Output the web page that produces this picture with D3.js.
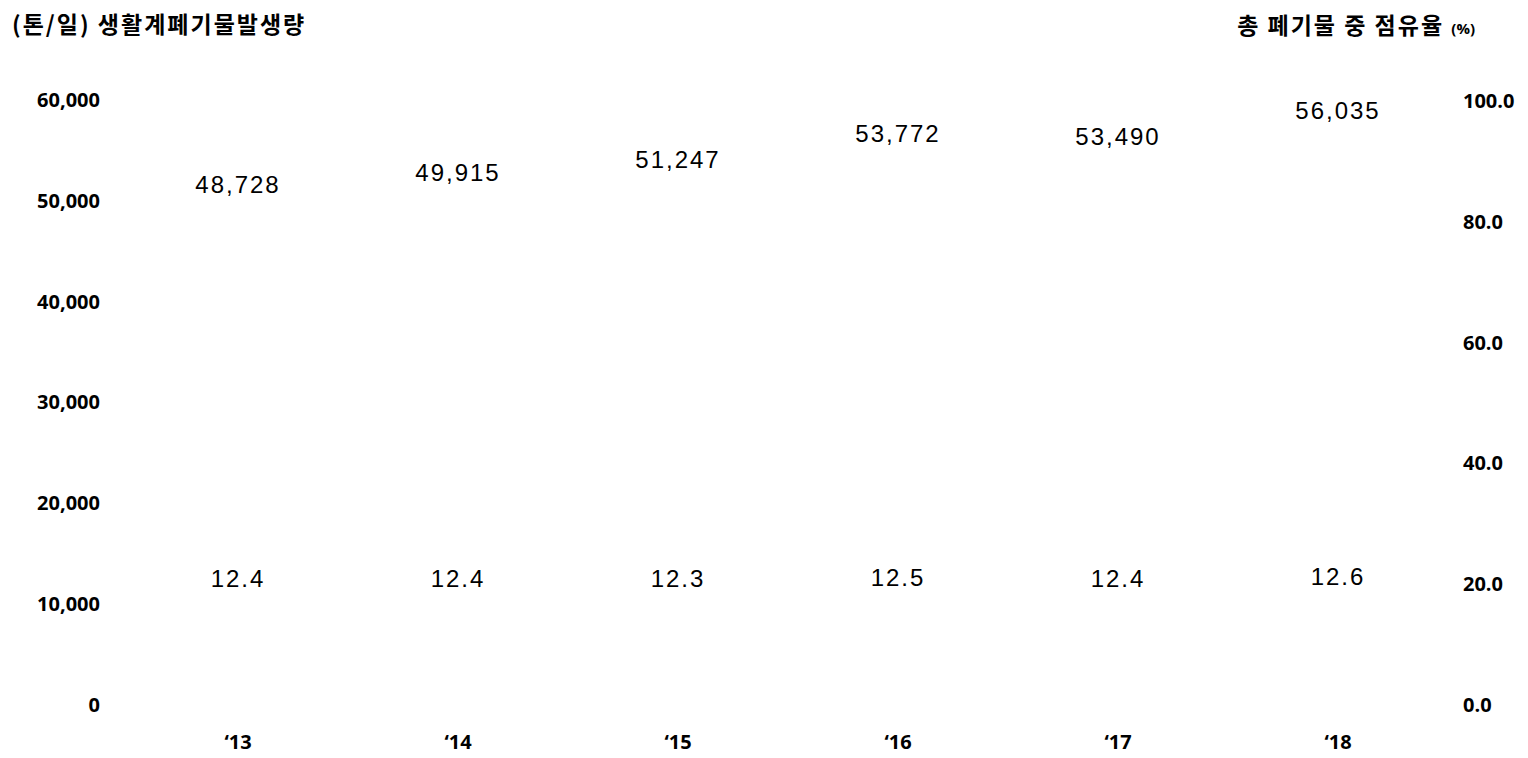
<!DOCTYPE html>
<html>
<head>
<meta charset="utf-8">
<script src="https://cdn.jsdelivr.net/npm/d3@7"></script>
<style>
  body { margin: 0; background: #fff; }
  .tick text { font-family: "Open Sans", "Noto Sans CJK KR", sans-serif; font-weight: 700; font-size: 20px; fill: #000; }
  .valueText { font-family: "Liberation Sans", Arial, sans-serif; font-size: 24px; letter-spacing: 2px; fill: #000; }
  .titleText { font-family: "Noto Sans CJK KR", sans-serif; font-weight: 700; font-size: 23px; letter-spacing: 2px; fill: #000; }
</style>
</head>
<body>
<div id="chart"></div>
<script>
// Data
var years = ["\u201813", "\u201814", "\u201815", "\u201816", "\u201817", "\u201818"];
var generation = [48728, 49915, 51247, 53772, 53490, 56035];   // 톤/일
var share = [12.4, 12.4, 12.3, 12.5, 12.4, 12.6];               // %
var leftTicks = [0, 10000, 20000, 30000, 40000, 50000, 60000];
var rightTicks = [0, 20, 40, 60, 80, 100];

var svgWidth = 1528;
var svgHeight = 758;

var svg = d3.select("#chart")
    .append("svg")
    .attr("width", svgWidth)
    .attr("height", svgHeight);

// plot area
var plotLeft = 128, plotRight = 1448, plotTop = 100, plotBottom = 705;

var xScale = d3.scaleBand()
    .domain(years)
    .range([plotLeft, plotRight])
    .paddingInner(0.3)
    .paddingOuter(0.15);

var yLeft = d3.scaleLinear()
    .domain([0, 60000])
    .range([plotBottom, plotTop]);

var yRight = d3.scaleLinear()
    .domain([0, 100])
    .range([plotBottom, plotTop + 1]);

// Axes (labels only, no lines)
var leftAxis = d3.axisLeft(yLeft)
    .tickValues(leftTicks)
    .tickFormat(d3.format(","))
    .tickSize(0)
    .tickPadding(0);

var rightAxis = d3.axisRight(yRight)
    .tickValues(rightTicks)
    .tickFormat(d3.format(".1f"))
    .tickSize(0)
    .tickPadding(0);

var bottomAxis = d3.axisBottom(xScale)
    .tickSize(0)
    .tickPadding(0);

var gl = svg.append("g")
    .attr("transform", "translate(100, 0)")
    .call(leftAxis);
gl.select(".domain").remove();

var gr = svg.append("g")
    .attr("transform", "translate(1463, 0)")
    .call(rightAxis);
gr.select(".domain").remove();

var gb = svg.append("g")
    .attr("transform", "translate(0, 735)")
    .call(bottomAxis);
gb.select(".domain").remove();

// Bars (invisible in the original)
svg.append("g")
    .selectAll("rect")
    .data(generation)
    .enter()
    .append("rect")
    .attr("x", (d, i) => xScale(years[i]))
    .attr("y", d => yLeft(d))
    .attr("width", xScale.bandwidth())
    .attr("height", d => plotBottom - yLeft(d))
    .attr("fill", "#fff")
    .attr("fill-opacity", 0);

// Line (invisible in the original)
var line = d3.line()
    .x((d, i) => xScale(years[i]) + xScale.bandwidth() / 2)
    .y(d => yRight(d));

svg.append("path")
    .datum(share)
    .attr("d", line)
    .attr("fill", "none")
    .attr("stroke", "none");

// Value labels
svg.append("g")
    .selectAll("text")
    .data(generation)
    .enter()
    .append("text")
    .attr("class", "valueText")
    .attr("text-anchor", "middle")
    .attr("x", (d, i) => xScale(years[i]) + xScale.bandwidth() / 2)
    .attr("y", d => yLeft(d) - 29)
    .attr("dy", "0.35em")
    .text(d => d3.format(",")(d));

svg.append("g")
    .selectAll("text")
    .data(share)
    .enter()
    .append("text")
    .attr("class", "valueText")
    .attr("text-anchor", "middle")
    .attr("x", (d, i) => xScale(years[i]) + xScale.bandwidth() / 2)
    .attr("y", d => yRight(d) - 52)
    .attr("dy", "0.35em")
    .text(d => d3.format(".1f")(d));

// Axis titles
svg.append("text")
    .attr("class", "titleText")
    .attr("x", 12)
    .attr("y", 33)
    .text("(톤/일) 생활계폐기물발생량");

var rt = svg.append("text")
    .attr("class", "titleText")
    .attr("text-anchor", "end")
    .attr("x", 1475)
    .attr("y", 34);
rt.append("tspan").text("총 폐기물 중 점유율 ");
rt.append("tspan").style("font-size", "15px").style("letter-spacing", "0px").style("font-family", "'Open Sans', sans-serif").text("(%)");
</script>
</body>
</html>
